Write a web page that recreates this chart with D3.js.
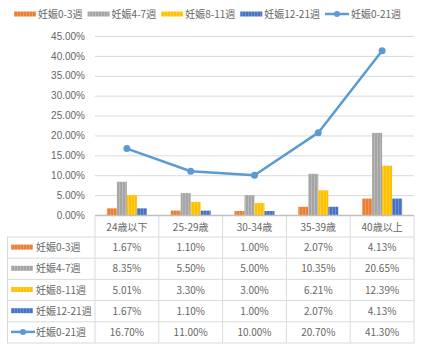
<!DOCTYPE html>
<html>
<head>
<meta charset="utf-8">
<script src="https://cdn.jsdelivr.net/npm/d3@7"></script>
<style>
  html, body { margin: 0; padding: 0; background: #fff; }
  svg { display: block; font-family: "Noto Sans CJK JP", "Noto Sans", sans-serif; }
</style>
</head>
<body>
<svg id="chart" width="423" height="348"></svg>
<script>
// Age groups and pregnancy-week series (percent values)
const categories = ["24歳以下", "25-29歳", "30-34歳", "35-39歳", "40歳以上"];
const barSeries = ["妊娠0-3週", "妊娠4-7週", "妊娠8-11週", "妊娠12-21週"];
const lineSeries = "妊娠0-21週";
const week0to3 = [1.67, 1.10, 1.00, 2.07, 4.13];
const week4to7 = [8.35, 5.50, 5.00, 10.35, 20.65];
const week8to11 = [5.01, 3.30, 3.00, 6.21, 12.39];
const week12to21 = [1.67, 1.10, 1.00, 2.07, 4.13];
const week0to21 = [16.70, 11.00, 10.00, 20.70, 41.30];
const yTicks = [0, 5, 10, 15, 20, 25, 30, 35, 40, 45];

const barValues = [week0to3, week4to7, week8to11, week12to21];
const barColors = ["#ED7D31", "#A5A5A5", "#FFC000", "#4472C4"];
const lineColor = "#5B9BD5";
const textColor = "#666666";
const gridColor = "#D9D9D9";

const svg = d3.select("#chart");
const defs = svg.append("defs");

// Striped fills for the bars
barColors.forEach((c, i) => {
  const p = defs.append("pattern")
    .attr("id", "stripe" + i)
    .attr("patternUnits", "userSpaceOnUse")
    .attr("width", 3).attr("height", 3);
  p.append("rect").attr("width", 3).attr("height", 3).attr("fill", c);
  p.append("rect").attr("x", 2).attr("width", 1).attr("height", 3)
    .attr("fill", "#fff").attr("opacity", 0.22);
});

const plot = { left: 95, right: 414, top: 36, bottom: 215 };

const x = d3.scaleBand().domain(categories).range([plot.left, plot.right]);
const y = d3.scaleLinear().domain([0, 45]).range([plot.bottom, plot.top]);
const barW = 10;
const xInner = d3.scaleBand().domain(barSeries)
  .range([x.bandwidth() / 2 - 2 * barW, x.bandwidth() / 2 + 2 * barW]);

// Gridlines and y labels
const yAxis = d3.axisLeft(y).tickValues(yTicks)
  .tickFormat(d => d3.format(".2f")(d) + "%")
  .tickSize(-(plot.right - plot.left)).tickPadding(10);
const gy = svg.append("g").attr("transform", `translate(${plot.left},0)`).call(yAxis);
gy.select(".domain").remove();
gy.selectAll("line").attr("stroke", gridColor).attr("stroke-width", 1);
gy.selectAll("text").attr("fill", textColor).attr("font-size", 10);

// Bars
barSeries.forEach((s, i) => {
  svg.append("g").selectAll("rect")
    .data(categories.map((c, j) => ({ c, v: barValues[i][j] })))
    .join("rect")
    .attr("x", d => x(d.c) + xInner(s))
    .attr("width", xInner.bandwidth())
    .attr("y", d => y(d.v))
    .attr("height", d => y(0) - y(d.v))
    .attr("fill", `url(#stripe${i})`);
});

// Horizontal axis line
svg.append("line")
  .attr("x1", plot.left).attr("x2", plot.right)
  .attr("y1", plot.bottom + 0.5).attr("y2", plot.bottom + 0.5)
  .attr("stroke", "#BFBFBF").attr("stroke-width", 1.5);

// Total line with markers
const cx = c => x(c) + x.bandwidth() / 2;
svg.append("path")
  .datum(categories.map((c, j) => ({ c, v: week0to21[j] })))
  .attr("fill", "none").attr("stroke", lineColor)
  .attr("stroke-width", 2.5).attr("stroke-linejoin", "round")
  .attr("d", d3.line().x(d => cx(d.c)).y(d => y(d.v)));
svg.append("g").selectAll("circle")
  .data(categories.map((c, j) => ({ c, v: week0to21[j] })))
  .join("circle")
  .attr("cx", d => cx(d.c)).attr("cy", d => y(d.v))
  .attr("r", 3.5).attr("fill", lineColor);

// Legend key drawing helper
function drawKey(g, i, x0, yc) {
  if (i < 4) {
    g.append("rect").attr("x", x0).attr("y", yc - 2.5)
      .attr("width", 22).attr("height", 5).attr("fill", `url(#stripe${i})`);
  } else {
    g.append("line").attr("x1", x0).attr("x2", x0 + 24)
      .attr("y1", yc).attr("y2", yc)
      .attr("stroke", lineColor).attr("stroke-width", 2.5);
    g.append("circle").attr("cx", x0 + 12).attr("cy", yc).attr("r", 3)
      .attr("fill", lineColor);
  }
}

const allSeries = barSeries.concat([lineSeries]);

// Top legend
const legend = svg.append("g");
let lx = 14;
allSeries.forEach((s, i) => {
  drawKey(legend, i, lx, 14);
  const keyW = i < 4 ? 22 : 24;
  const t = legend.append("text")
    .attr("x", lx + keyW + 2).attr("y", 14).attr("dy", "0.35em")
    .attr("font-size", 10).attr("fill", textColor).text(s);
  lx += keyW + 2 + t.node().getComputedTextLength() + 5;
});

// Data table
const tableTop = 216, headerH = 21, rowH = 21.2, tableLeft = 7;
const table = svg.append("g");
const rowsBottom = tableTop + headerH + rowH * allSeries.length;

// Category headers
table.selectAll("text.hdr").data(categories).join("text")
  .attr("class", "hdr")
  .attr("x", d => cx(d)).attr("y", tableTop + headerH / 2 + 1).attr("dy", "0.35em")
  .attr("text-anchor", "middle").attr("font-size", 10).attr("fill", textColor)
  .text(d => d);

// Vertical rules
const colEdges = [plot.left].concat(categories.map(c => x(c) + x.bandwidth()));
colEdges.forEach(xe => {
  table.append("line").attr("x1", xe).attr("x2", xe)
    .attr("y1", tableTop).attr("y2", rowsBottom)
    .attr("stroke", gridColor);
});
table.append("line").attr("x1", tableLeft + 0.5).attr("x2", tableLeft + 0.5)
  .attr("y1", tableTop + headerH).attr("y2", rowsBottom).attr("stroke", gridColor);

// Horizontal rules
for (let r = 0; r <= allSeries.length; r++) {
  const yy = tableTop + headerH + r * rowH;
  table.append("line").attr("x1", tableLeft).attr("x2", plot.right)
    .attr("y1", yy).attr("y2", yy).attr("stroke", gridColor);
}

// Rows
const allValues = barValues.concat([week0to21]);
allSeries.forEach((s, i) => {
  const yc = tableTop + headerH + rowH * i + rowH / 2;
  drawKey(table, i, 11, yc - 0.5);
  table.append("text").attr("x", 36).attr("y", yc).attr("dy", "0.35em")
    .attr("font-size", 10).attr("fill", textColor).text(s);
  table.selectAll(null).data(categories).join("text")
    .attr("x", d => cx(d)).attr("y", yc).attr("dy", "0.35em")
    .attr("text-anchor", "middle").attr("font-size", 10).attr("fill", textColor)
    .text((d, j) => d3.format(".2f")(allValues[i][j]) + "%");
});
</script>
</body>
</html>
